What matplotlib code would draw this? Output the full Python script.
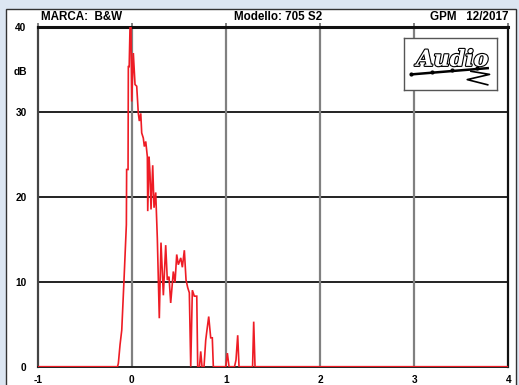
import matplotlib
matplotlib.use("Agg")
import matplotlib.pyplot as plt
from matplotlib.patches import Rectangle
import matplotlib.patheffects as pe

plt.rcParams['font.family'] = ['Liberation Sans', 'DejaVu Sans']
plt.rcParams['font.weight'] = 'bold'

# Cumulative spectral decay: energy (dB) versus time (ms)
time_ms = [-1.0, -0.152, -0.143, -0.125, -0.107, -0.083, -0.058, -0.055, -0.040, -0.037,
           -0.028, -0.019, -0.009, -0.001, 0.016, 0.034, 0.052, 0.069, 0.080, 0.095,
           0.105, 0.122, 0.133, 0.148, 0.165, 0.169, 0.183, 0.193, 0.204, 0.222,
           0.236, 0.254, 0.262, 0.271, 0.292, 0.310, 0.335, 0.360, 0.377, 0.395,
           0.413, 0.441, 0.459, 0.477, 0.494, 0.520, 0.537, 0.558, 0.576, 0.594,
           0.611, 0.626, 0.643, 0.664, 0.690, 0.700, 0.719, 0.732, 0.746, 0.767,
           0.785, 0.796, 0.817, 0.838, 0.855, 0.866, 0.998, 1.015, 1.033, 1.091,
           1.107, 1.125, 1.139, 1.283, 1.295, 1.309, 4.0]
level_db = [0.0, 0.0, 0.4, 2.6, 4.3, 10.2, 16.7, 23.2, 23.2, 35.3,
            35.3, 40.0, 40.0, 31.2, 36.9, 33.2, 33.0, 29.8, 28.9, 29.8,
            27.5, 26.9, 25.9, 26.5, 24.7, 18.3, 24.7, 22.8, 18.5, 23.7,
            18.7, 20.5, 17.9, 15.1, 5.7, 14.6, 8.4, 14.3, 10.2, 10.6,
            7.5, 11.2, 9.9, 13.2, 12.0, 12.8, 11.7, 13.7, 10.2, 9.3,
            8.7, 0.0, 9.0, 8.3, 8.3, 0.0, 0.0, 1.8, 0.0, 0.0,
            3.1, 4.1, 5.9, 3.4, 3.4, 0.0, 0.0, 1.6, 0.0, 0.0,
            0.8, 3.7, 0.0, 0.0, 5.3, 0.0, 0.0]

x_ticks = [-1, 0, 1, 2, 3, 4]
y_ticks = [0, 10, 20, 30, 40]

W, H = 519, 385
fig = plt.figure(figsize=(W / 100, H / 100), dpi=100)
fig.patch.set_facecolor('#dce6f2')

# white card behind the chart
fig.patches.append(Rectangle((6 / W, -0.02), (516 - 6) / W, (H - 9) / H + 0.02,
                             transform=fig.transFigure, facecolor='white',
                             edgecolor='#333333', linewidth=1.0, zorder=-5))

ax = fig.add_axes([37.7 / W, (H - 366.7) / H, (508.3 - 37.7) / W, (366.7 - 26.7) / H])
ax.set_facecolor('white')
ax.set_xlim(-1, 4)
ax.set_ylim(0, 40)

for yv in y_ticks[1:-1]:
    ax.axhline(yv, color='#111111', linewidth=1.3, zorder=1)
for xv in x_ticks[1:-1]:
    ax.axvline(xv, color='#808080', linewidth=1.6, zorder=1)

ax.plot(time_ms, level_db, color='#ee1c25', linewidth=1.2, zorder=3,
        solid_joinstyle='miter')

ax.set_xticks(x_ticks)
ax.set_xticklabels([str(v) for v in x_ticks], fontsize=7.3, fontweight='bold')
ax.set_yticks(y_ticks)
ax.set_yticklabels([str(v) for v in y_ticks], fontsize=7.3, fontweight='bold')
ax.tick_params(axis='y', length=0, pad=8)
ax.tick_params(axis='x', bottom=False, top=True, direction='out', length=3,
               width=1.4, color='#808080', pad=3, labeltop=False)

ax.spines['top'].set_linewidth(2.2)
ax.spines['top'].set_color('#111111')
ax.spines['right'].set_linewidth(1.6)
ax.spines['right'].set_color('#111111')
ax.spines['bottom'].set_linewidth(1.4)
ax.spines['bottom'].set_color('#222222')
ax.spines['left'].set_linewidth(1.6)
ax.spines['left'].set_color('#444444')

fig.text(27 / W, (H - 72) / H, 'dB', ha='right', va='center', fontsize=7.3, fontweight='bold')

# header line
fig.text(41 / W, (H - 17) / H, 'MARCA:  B&W', ha='left', va='center', fontsize=8.4, fontweight='bold')
fig.text(278 / W, (H - 17) / H, 'Modello: 705 S2', ha='center', va='center', fontsize=8.4, fontweight='bold')
fig.text(509 / W, (H - 17) / H, 'GPM   12/2017', ha='right', va='center', fontsize=8.4, fontweight='bold')

# magazine logo box
logo = fig.add_axes([404 / W, (H - 90) / H, 93 / W, 52 / H])
logo.set_xlim(0, 1)
logo.set_ylim(0, 1)
logo.set_xticks([])
logo.set_yticks([])
logo.set_facecolor('white')
for s in logo.spines.values():
    s.set_color('#555555')
    s.set_linewidth(1.0)
logo.text(0.52, 0.58, 'Audio', ha='center', va='center', fontsize=16,
          fontstyle='italic', family='DejaVu Serif', color='white',
          path_effects=[pe.withStroke(linewidth=1.6, foreground='black')])
logo.plot([0.08, 0.35, 0.62, 0.9], [0.3, 0.34, 0.38, 0.42], color='black', linewidth=1.8)
logo.plot([0.08, 0.3, 0.52, 0.78], [0.3, 0.34, 0.38, 0.42], 'o', color='black', markersize=2)
logo.plot([0.72, 0.92, 0.68, 0.9], [0.36, 0.3, 0.2, 0.1], color='black', linewidth=1.2)

fig.savefig('out.png', dpi=100, facecolor=fig.get_facecolor())
